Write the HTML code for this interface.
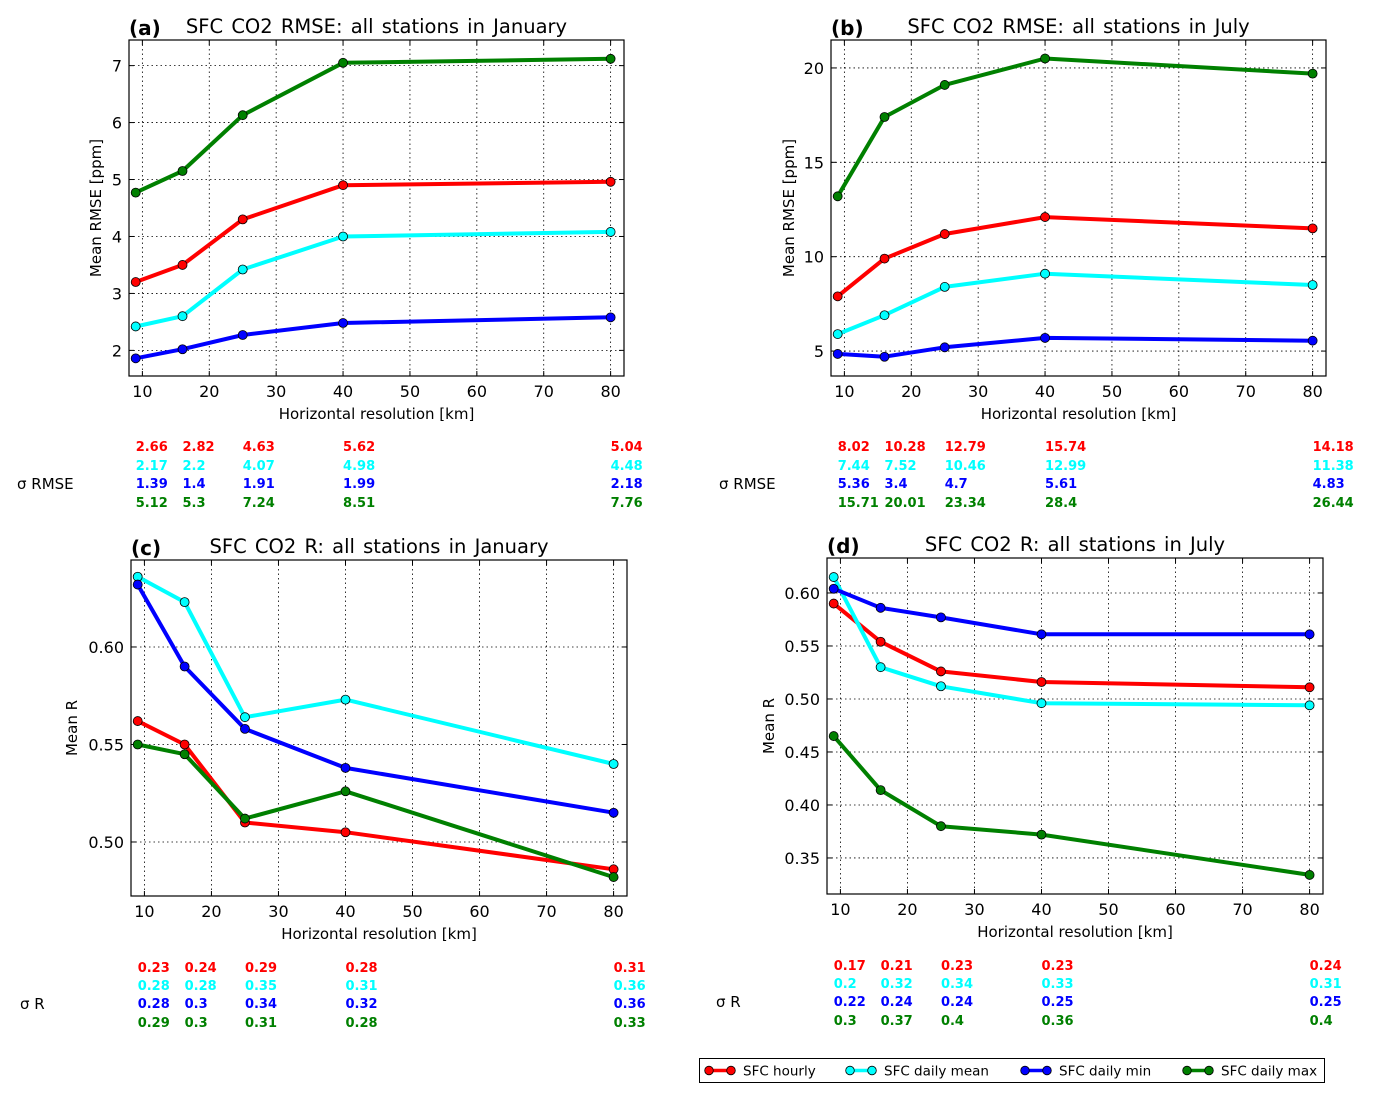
<!DOCTYPE html>
<html><head><meta charset="utf-8"><style>
body{margin:0;background:#fff;}
svg{display:block;font-family:"DejaVu Sans","Liberation Sans",sans-serif;}
</style></head><body>
<svg id="fig" width="1374" height="1103" viewBox="0 0 1374 1103"></svg>
<script>
const resolutions=[9,16,25,40,80];
const seriesNames=['SFC hourly','SFC daily mean','SFC daily min','SFC daily max'];
const colors=['#ff0000','#00ffff','#0000ff','#008000'];
const aHourly=[3.2,3.5,4.3,4.9,4.96];
const aMean=[2.42,2.6,3.42,4.0,4.08];
const aMin=[1.86,2.02,2.27,2.48,2.58];
const aMax=[4.77,5.15,6.13,7.05,7.12];
const bHourly=[7.9,9.9,11.2,12.1,11.5];
const bMean=[5.9,6.9,8.4,9.1,8.5];
const bMin=[4.85,4.7,5.2,5.7,5.55];
const bMax=[13.2,17.4,19.1,20.5,19.7];
const cHourly=[0.562,0.550,0.510,0.505,0.486];
const cMean=[0.636,0.623,0.564,0.573,0.540];
const cMin=[0.632,0.590,0.558,0.538,0.515];
const cMax=[0.550,0.545,0.512,0.526,0.482];
const dHourly=[0.590,0.554,0.526,0.516,0.511];
const dMean=[0.615,0.530,0.512,0.496,0.494];
const dMin=[0.604,0.586,0.577,0.561,0.561];
const dMax=[0.465,0.414,0.380,0.372,0.334];
const aSigma=[['2.66','2.82','4.63','5.62','5.04'],['2.17','2.2','4.07','4.98','4.48'],['1.39','1.4','1.91','1.99','2.18'],['5.12','5.3','7.24','8.51','7.76']];
const bSigma=[['8.02','10.28','12.79','15.74','14.18'],['7.44','7.52','10.46','12.99','11.38'],['5.36','3.4','4.7','5.61','4.83'],['15.71','20.01','23.34','28.4','26.44']];
const cSigma=[['0.23','0.24','0.29','0.28','0.31'],['0.28','0.28','0.35','0.31','0.36'],['0.28','0.3','0.34','0.32','0.36'],['0.29','0.3','0.31','0.28','0.33']];
const dSigma=[['0.17','0.21','0.23','0.23','0.24'],['0.2','0.32','0.34','0.33','0.31'],['0.22','0.24','0.24','0.25','0.25'],['0.3','0.37','0.4','0.36','0.4']];
const xTicks=[10,20,30,40,50,60,70,80];
const aYTicks=[2,3,4,5,6,7];
const bYTicks=[5,10,15,20];
const cYTicks=[0.50,0.55,0.60];
const dYTicks=[0.35,0.40,0.45,0.50,0.55,0.60];

const NS='http://www.w3.org/2000/svg';
const svg=document.getElementById('fig');
function mk(tag,attrs,parent,text){const e=document.createElementNS(NS,tag);for(const k in attrs)e.setAttribute(k,attrs[k]);if(text!==undefined)e.textContent=text;(parent||svg).appendChild(e);return e;}

const panels=[
 {id:'a',L:129,T:40,R:624,B:376,ymin:1.55,ymax:7.45,yt:aYTicks,fmt:v=>String(v),data:[aHourly,aMean,aMin,aMax],sig:aSigma,title:'SFC CO2 RMSE:  all stations in January',ylab:'Mean RMSE [ppm]',yoff:33,slab:'σ RMSE',sx:17,rows:[446,465,483,502]},
 {id:'b',L:831,T:40,R:1326,B:376,ymin:3.68,ymax:21.48,yt:bYTicks,fmt:v=>String(v),data:[bHourly,bMean,bMin,bMax],sig:bSigma,title:'SFC CO2 RMSE:  all stations in July',ylab:'Mean RMSE [ppm]',yoff:42,slab:'σ RMSE',sx:719,rows:[446,465,483,502]},
 {id:'c',L:131,T:560,R:627,B:896,ymin:0.4723,ymax:0.6446,yt:cYTicks,fmt:v=>v.toFixed(2),data:[cHourly,cMean,cMin,cMax],sig:cSigma,title:'SFC CO2 R:  all stations in January',ylab:'Mean R',yoff:59,slab:'σ R',sx:20,rows:[967,985,1003,1022]},
 {id:'d',L:827,T:558,R:1323,B:894,ymin:0.316,ymax:0.633,yt:dYTicks,fmt:v=>v.toFixed(2),data:[dHourly,dMean,dMin,dMax],sig:dSigma,title:'SFC CO2 R:  all stations in July',ylab:'Mean R',yoff:58,slab:'σ R',sx:716,rows:[965,983,1001,1020]}
];

panels.forEach(p=>{
 const g=mk('g',{});
 
 
 const xs=v=>p.L+(v-8)/(82-8)*(p.R-p.L);
 const ys=v=>p.B-(v-p.ymin)/(p.ymax-p.ymin)*(p.B-p.T);
 xTicks.forEach(t=>{
  const x=xs(t);
  const gl=mk('line',{x1:x,x2:x,y1:p.T,y2:p.B,stroke:'#000','stroke-width':0.8,'stroke-dasharray':'1.5,3'},g);
  
  mk('line',{x1:x,x2:x,y1:p.B,y2:p.B-5,stroke:'#000'},g);
  mk('line',{x1:x,x2:x,y1:p.T,y2:p.T+5,stroke:'#000'},g);
  const tl=mk('text',{x:x,y:p.B+21,'text-anchor':'middle','font-size':16},g,String(t));
  
 });
 p.yt.forEach(t=>{
  const y=ys(t);
  const gl=mk('line',{x1:p.L,x2:p.R,y1:y,y2:y,stroke:'#000','stroke-width':0.8,'stroke-dasharray':'1.5,3'},g);
  
  mk('line',{x1:p.L,x2:p.L+5,y1:y,y2:y,stroke:'#000'},g);
  mk('line',{x1:p.R,x2:p.R-5,y1:y,y2:y,stroke:'#000'},g);
  const tl=mk('text',{x:p.L-7,y:y+6,'text-anchor':'end','font-size':16},g,p.fmt(t));
  
 });
 p.data.forEach((arr,si)=>{
  const pts=arr.map((v,i)=>xs(resolutions[i]).toFixed(1)+','+ys(v).toFixed(1)).join(' ');
  const pl=mk('polyline',{points:pts,fill:'none',stroke:colors[si],'stroke-width':4,'stroke-linejoin':'round'},g);
  
  
  arr.forEach((v,i)=>{
   const c=mk('circle',{cx:xs(resolutions[i]),cy:ys(v),r:4.5,fill:colors[si],stroke:'#000','stroke-width':0.8},g);
   
   
  });
 });
 const fr=mk('rect',{x:p.L,y:p.T,width:p.R-p.L,height:p.B-p.T,fill:'none',stroke:'#000','stroke-width':1.2},g);
 
 const pl=mk('text',{x:p.L,y:p.T-5,'font-size':20,'font-weight':'bold'},g,'('+p.id+')');
 
 const tt=mk('text',{x:(p.L+p.R)/2,y:p.T-7,'text-anchor':'middle','font-size':19.5,'word-spacing':'2'},g,p.title);
 
 const xl=mk('text',{x:(p.L+p.R)/2,y:p.B+43,'text-anchor':'middle','font-size':15},g,'Horizontal resolution [km]');
 
 const cy=(p.T+p.B)/2;
 const yx=p.L-p.yoff+5;
 const yl=mk('text',{x:yx,y:cy,'text-anchor':'middle','font-size':15,transform:'rotate(-90 '+yx+' '+cy+')'},g,p.ylab);
 
 const sl=mk('text',{x:p.sx,y:p.rows[2]+6,'font-size':15},g,p.slab);
 
 p.sig.forEach((row,ri)=>{
  row.forEach((s,i)=>{
   const t=mk('text',{x:xs(resolutions[i]),y:p.rows[ri]+5,'font-size':13,'font-weight':'bold',fill:colors[ri]},g,s);
   
   
  });
 });
});

const lg=mk('g',{});


mk('rect',{x:699.5,y:1058.5,width:625,height:24,fill:'#fff',stroke:'#000','stroke-width':1},lg);
const lx=[706,847,1022,1184];
seriesNames.forEach((n,i)=>{
 const e=mk('g',{},lg);
 
 
 mk('line',{x1:lx[i]+3,x2:lx[i]+25,y1:1070.5,y2:1070.5,stroke:colors[i],'stroke-width':3.5},e);
 mk('circle',{cx:lx[i]+3,cy:1070.5,r:4.3,fill:colors[i],stroke:'#000','stroke-width':0.8},e);
 mk('circle',{cx:lx[i]+25,cy:1070.5,r:4.3,fill:colors[i],stroke:'#000','stroke-width':0.8},e);
 mk('text',{x:lx[i]+37,y:1075.5,'font-size':13.5},e,n);
});
</script>
</body></html>
